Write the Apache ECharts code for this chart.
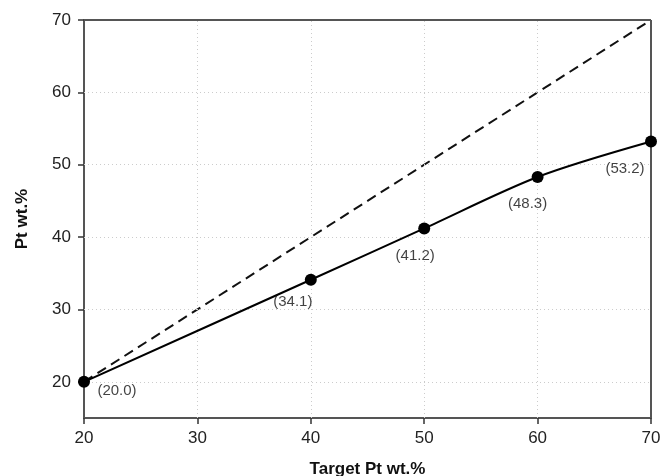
<!DOCTYPE html>
<html>
<head>
<meta charset="utf-8">
<script src="https://cdn.jsdelivr.net/npm/echarts@6/dist/echarts.min.js"></script>
<style>
  html, body { margin: 0; padding: 0; background: #fff; }
  #main { width: 663px; height: 476px; }
</style>
</head>
<body>
<div id="main"></div>
<script>
// target vs measured Pt loading
const targetPt = [20, 40, 50, 60, 70];
const measuredPt = [20.0, 34.1, 41.2, 48.3, 53.2];
const idealLine = [[20, 20], [70, 70]];
const tickValues = [20, 30, 40, 50, 60, 70];

// label placement per point (offset from the marker)
const labelOffsets = [[33, -3], [-18, 10], [-9, 15], [-10, 14], [-26, 15]];

const chart = echarts.init(document.getElementById('main'));

const axisCommon = {
    axisLine: { onZero: false, lineStyle: { color: '#555', width: 2 } },
    axisTick: { show: true, customValues: tickValues, length: 6, lineStyle: { color: '#333', width: 1.5 } },
    axisLabel: { customValues: tickValues, color: '#222', fontSize: 17, fontFamily: 'Liberation Sans' },
    splitLine: { show: false },
    nameTextStyle: { color: '#111', fontSize: 17, fontWeight: 'bold', fontFamily: 'Liberation Sans' }
};

const option = {
    backgroundColor: '#fff',
    animation: false,
    grid: { left: 84, right: 12, top: 20, bottom: 58, containLabel: false, outerBoundsMode: 'none' },
    xAxis: Object.assign({}, axisCommon, {
        type: 'value',
        min: 20, max: 70, interval: 10,
        name: 'Target Pt wt.%',
        nameLocation: 'middle',
        nameGap: 43,
        axisLabel: Object.assign({}, axisCommon.axisLabel, { margin: 12 })
    }),
    yAxis: Object.assign({}, axisCommon, {
        type: 'value',
        min: 15, max: 70, interval: 5,
        name: 'Pt wt.%',
        nameLocation: 'middle',
        nameGap: 53,
        axisLabel: Object.assign({}, axisCommon.axisLabel, { margin: 13 })
    }),
    series: [
        {
            // dotted grid
            type: 'line',
            z: 0,
            data: [],
            markLine: {
                silent: true,
                symbol: 'none',
                label: { show: false },
                lineStyle: { color: '#ccc', width: 1, type: [1, 3] },
                data: tickValues.filter(v => v > 20 && v < 70).map(v => ({ xAxis: v }))
                    .concat(tickValues.filter(v => v < 70).map(v => ({ yAxis: v })))
            }
        },
        {
            // frame lines on top / right
            type: 'line',
            z: 1,
            data: [],
            markLine: {
                silent: true,
                symbol: 'none',
                label: { show: false },
                lineStyle: { color: '#555', width: 2, type: 'solid' },
                data: [{ yAxis: 70 }, { xAxis: 70 }]
            }
        },
        {
            type: 'line',
            z: 4,
            data: idealLine,
            symbol: 'none',
            lineStyle: { color: '#111', width: 2, type: [10, 6] }
        },
        {
            type: 'line',
            z: 5,
            smooth: 0.3,
            data: targetPt.map((x, i) => [x, measuredPt[i]]),
            symbol: 'circle',
            symbolSize: 12,
            showAllSymbol: true,
            itemStyle: { color: '#000', borderWidth: 0 },
            lineStyle: { color: '#000', width: 2 },
            label: { show: false }
        },
        {
            // value labels
            type: 'scatter',
            z: 6,
            data: targetPt.map((x, i) => ({
                value: [x, measuredPt[i]],
                label: { offset: labelOffsets[i] }
            })),
            symbolSize: 0,
            label: {
                show: true,
                position: 'bottom',
                color: '#111',
                fontSize: 15,
                fontFamily: 'Liberation Sans',
                formatter: p => '(' + p.value[1].toFixed(1) + ')'
            }
        }
    ]
};

chart.setOption(option);
</script>
</body>
</html>
